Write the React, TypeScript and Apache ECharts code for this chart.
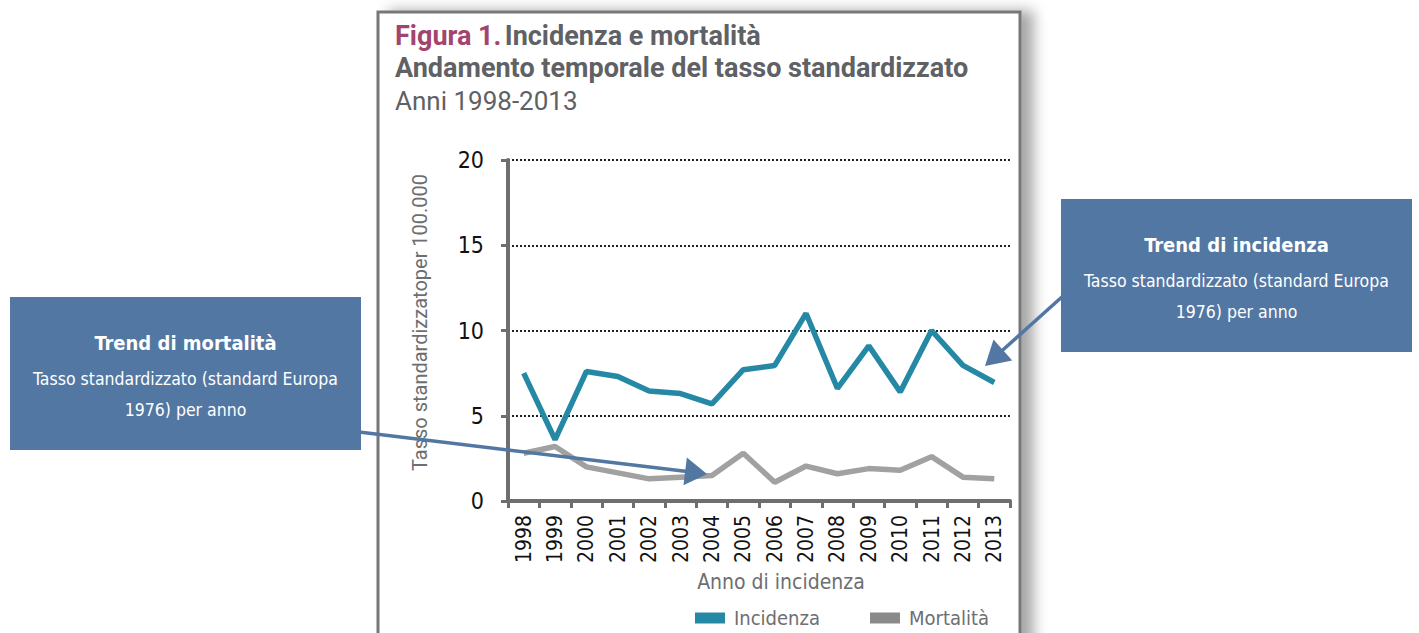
import React, { useEffect, useRef } from "react";
import * as echarts from "echarts";

const years = ["1998", "1999", "2000", "2001", "2002", "2003", "2004", "2005", "2006", "2007", "2008", "2009", "2010", "2011", "2012", "2013"];
const incidenza = [7.5, 3.6, 7.6, 7.3, 6.45, 6.3, 5.7, 7.7, 7.95, 11.0, 6.6, 9.1, 6.4, 10.0, 7.95, 6.95];
const mortalita = [2.8, 3.2, 2.0, 1.65, 1.3, 1.4, 1.5, 2.8, 1.1, 2.05, 1.6, 1.9, 1.8, 2.6, 1.4, 1.3];
const yMin = 0;
const yMax = 20;
const yStep = 5;

const NARROW = "'Liberation Sans Narrow', 'DejaVu Sans Condensed', 'Roboto Condensed', sans-serif";
const SANS = "Roboto, 'Noto Sans', sans-serif";
const GRAY = "#6d6e71";
const BOX = "#5277a3";

function arrow(x1: number, y1: number, x2: number, y2: number, headLen: number, headW: number) {
  const dx = x2 - x1;
  const dy = y2 - y1;
  const len = Math.sqrt(dx * dx + dy * dy);
  const ux = dx / len;
  const uy = dy / len;
  const bx = x2 - ux * headLen;
  const by = y2 - uy * headLen;
  const px = -uy;
  const py = ux;
  return [
    {
      type: "line",
      shape: { x1, y1, x2: bx + ux * 2, y2: by + uy * 2 },
      style: { stroke: BOX, lineWidth: 3.5 },
      z: 50,
    },
    {
      type: "polygon",
      shape: {
        points: [
          [x2, y2],
          [bx + px * headW, by + py * headW],
          [bx - px * headW, by - py * headW],
        ],
      },
      style: { fill: BOX },
      z: 50,
    },
  ];
}

function box(x: number, y: number, title: string) {
  const w = 351;
  const h = 153;
  const cx = x + w / 2;
  return [
    { type: "rect", shape: { x, y, width: w, height: h }, style: { fill: BOX }, z: 40 },
    {
      type: "text",
      x: cx,
      y: y + 46,
      style: { text: title, fill: "#fff", font: `bold 20px ${NARROW}`, align: "center", verticalAlign: "middle" },
      z: 41,
    },
    {
      type: "text",
      x: cx,
      y: y + 82,
      style: { text: "Tasso standardizzato (standard Europa", fill: "#fff", font: `17.5px ${NARROW}`, align: "center", verticalAlign: "middle" },
      z: 41,
    },
    {
      type: "text",
      x: cx,
      y: y + 113,
      style: { text: "1976) per anno", fill: "#fff", font: `17.5px ${NARROW}`, align: "center", verticalAlign: "middle" },
      z: 41,
    },
  ];
}

export default function App() {
  const ref = useRef<HTMLDivElement>(null);

  useEffect(() => {
    document.body.style.margin = "0";
    const chart = echarts.init(ref.current!, null, { renderer: "svg" });
    const option: any = {
      animation: false,
      backgroundColor: "#fff",
      grid: { left: 508, right: 409, top: 160, bottom: 132, containLabel: false },
      legend: {
        left: 690,
        top: 603,
        itemWidth: 30,
        itemHeight: 11,
        itemGap: 50,
        icon: "rect",
        textStyle: { color: GRAY, fontSize: 20, fontFamily: NARROW, padding: [0, 0, 0, 4] },
        data: ["Incidenza", "Mortalità"],
      },
      xAxis: {
        type: "category",
        data: years,
        boundaryGap: true,
        name: "Anno di incidenza",
        nameLocation: "middle",
        nameGap: 70,
        nameTextStyle: { color: GRAY, fontSize: 21, fontFamily: NARROW, padding: [0, 0, 0, 44] },
        axisLine: { show: true, lineStyle: { color: "#6d6e70", width: 4 } },
        axisTick: { show: true, alignWithLabel: false, length: 7, lineStyle: { color: "#6d6e70", width: 3 } },
        axisLabel: { rotate: 90, color: "#111", fontSize: 21, fontFamily: NARROW, margin: 14, interval: 0 },
        splitLine: { show: false },
      },
      yAxis: {
        type: "value",
        min: yMin,
        max: yMax,
        interval: yStep,
        name: "Tasso standardizzatoper 100.000",
        nameLocation: "middle",
        nameRotate: 90,
        nameGap: 78,
        nameTextStyle: { color: GRAY, fontSize: 20, fontFamily: SANS, padding: [0, 0, 0, 16] },
        axisLine: { show: true, lineStyle: { color: "#6d6e70", width: 4 } },
        axisTick: { show: true, length: 7, lineStyle: { color: "#6d6e70", width: 3 } },
        axisLabel: { color: "#111", fontSize: 23, fontFamily: NARROW, margin: 24 },
        splitLine: { show: true, lineStyle: { color: "#222", width: 2, type: [2, 2] } },
      },
      series: [
        {
          name: "Incidenza",
          type: "line",
          data: incidenza,
          symbol: "none",
          lineStyle: { color: "#2589a6", width: 5.5 },
          itemStyle: { color: "#2589a6" },
          z: 3,
        },
        {
          name: "Mortalità",
          type: "line",
          data: mortalita,
          symbol: "none",
          lineStyle: { color: "#a1a1a1", width: 5.5 },
          itemStyle: { color: "#8a8a8a" },
          z: 2,
        },
      ],
      graphic: [
        {
          type: "rect",
          shape: { x: 378, y: 12, width: 642, height: 650 },
          style: {
            fill: "#fff",
            stroke: "#76777a",
            lineWidth: 3,
            shadowBlur: 14,
            shadowOffsetX: 12,
            shadowOffsetY: 0,
            shadowColor: "rgba(0,0,0,0.35)",
          },
          z: -100,
          silent: true,
        },
        {
          type: "text",
          x: 395,
          y: 36,
          style: {
            text: "{a|Figura 1.} {b|Incidenza e mortalità}",
            verticalAlign: "middle",
            rich: {
              a: { fill: "#a3446f", font: `bold 27px ${SANS}` },
              b: { fill: "#606164", font: `bold 27px ${SANS}` },
            },
          },
          z: 10,
        },
        {
          type: "text",
          x: 395,
          y: 68,
          style: { text: "Andamento temporale del tasso standardizzato", fill: "#606164", font: `bold 27px ${SANS}`, verticalAlign: "middle" },
          z: 10,
        },
        {
          type: "text",
          x: 395,
          y: 101,
          style: { text: "Anni 1998-2013", fill: "#606164", font: `26px ${SANS}`, verticalAlign: "middle" },
          z: 10,
        },
        ...box(10, 297, "Trend di mortalità"),
        ...box(1061, 199, "Trend di incidenza"),
        ...arrow(359, 432, 707, 474, 22, 14),
        ...arrow(1063, 296, 985, 366, 24, 14),
      ],
    };
    chart.setOption(option);
    return () => chart.dispose();
  }, []);

  return <div ref={ref} style={{ width: 1419, height: 633 }} />;
}
